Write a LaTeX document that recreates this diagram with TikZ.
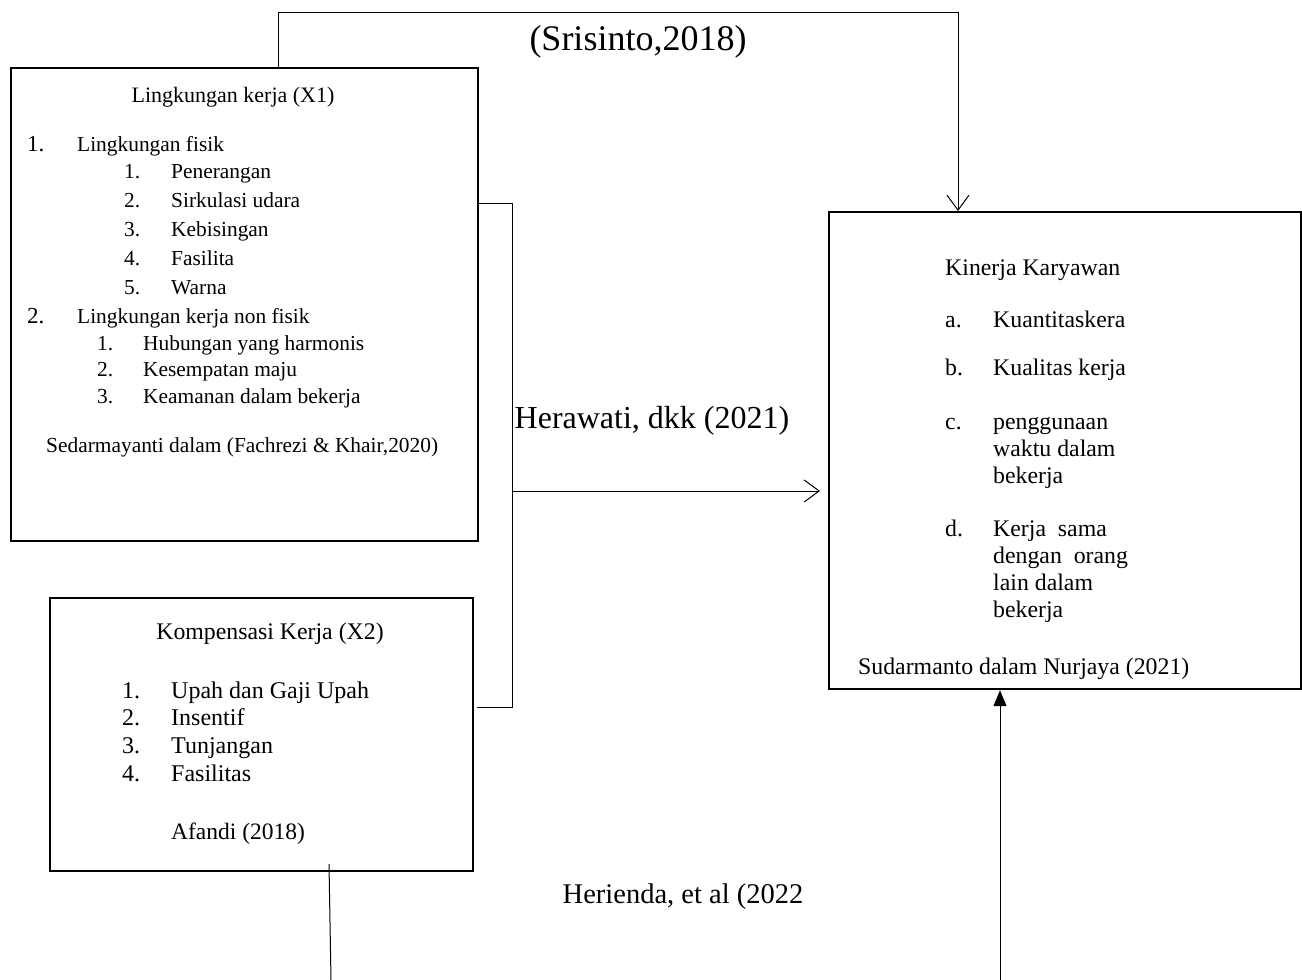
\documentclass[tikz,border=0pt]{standalone}
\usepackage{fontspec}
\setmainfont{Liberation Serif}
\usetikzlibrary{arrows.meta,calc}
\newcommand{\fs}[1]{\fontsize{#1}{#1}\selectfont}
\tikzset{
  boxshape/.style={draw, line width=2.2pt, inner sep=0pt, anchor=north west},
  conn/.style={line width=1pt},
  txt/.style={anchor=west, inner sep=0pt, text height=0.7em, text depth=0.22em, yshift=-5pt},
  ttxt/.style={anchor=center, inner sep=0pt, text height=0.7em, text depth=0.22em, yshift=-5pt},
  btxt/.style={anchor=center, inner sep=0pt, text height=0.7em, text depth=0.22em, yshift=-8pt},
  openarrow/.style={-{Straight Barb[length=15pt,width=22pt,line width=1pt]}},
  filledarrow/.style={-{Triangle[length=16pt,width=13pt]}}
}
\begin{document}
\begin{tikzpicture}[x=1pt,y=-1pt]
\useasboundingbox (0,0) rectangle (1302,980);
% boxes
\node[boxshape, minimum width=467pt, minimum height=473pt] (b1) at (10,67) {};
\node[boxshape, minimum width=423pt, minimum height=273pt] (b2) at (49,597) {};
\node[boxshape, minimum width=472pt, minimum height=477pt] (b3) at (828,211) {};

% box 1 text
\node[ttxt, font=\fs{22}] (t1) at (233,95) {Lingkungan kerja (X1)};
\node[txt, font=\fs{23}] (n1) at (27,144) {1.};
\node[txt, font=\fs{21.4}] (l1) at (77,144) {Lingkungan fisik};
\foreach \y/\n/\t [count=\i] in {171/1./Penerangan, 200/2./Sirkulasi udara, 229/3./Kebisingan, 258/4./Fasilita, 287/5./Warna}{
  \node[txt, font=\fs{21.4}] (sa\i) at (124,\y) {\n};
  \node[txt, font=\fs{21.4}] (sb\i) at (171,\y) {\t};
}
\node[txt, font=\fs{23}] (n2) at (27,316) {2.};
\node[txt, font=\fs{21.4}] (l2) at (77,316) {Lingkungan kerja non fisik};
\foreach \y/\n/\t [count=\i] in {343/1./Hubungan yang harmonis, 369/2./Kesempatan maju, 396/3./Keamanan dalam bekerja}{
  \node[txt, font=\fs{21.4}] (ua\i) at (97,\y) {\n};
  \node[txt, font=\fs{21.4}] (ub\i) at (143,\y) {\t};
}
\node[txt, font=\fs{21.4}] (src1) at (46,445) {Sedarmayanti dalam (Fachrezi \& Khair,2020)};

% box 2 text
\node[ttxt, font=\fs{23.8}] (t2) at (270,632) {Kompensasi Kerja (X2)};
\foreach \y/\n/\t [count=\i] in {691/1./Upah dan Gaji Upah, 718/2./Insentif, 746/3./Tunjangan, 774/4./Fasilitas}{
  \node[txt, font=\fs{24}] (ka\i) at (122,\y) {\n};
  \node[txt, font=\fs{24}] (kb\i) at (171,\y) {\t};
}
\node[txt, font=\fs{23.5}] (src2) at (171,832) {Afandi (2018)};

% box 3 text
\node[txt, font=\fs{23.8}] (t3) at (945,268) {Kinerja Karyawan};
\node[txt, font=\fs{23.8}] (pa) at (945,320) {a.};
\node[txt, font=\fs{23.8}] (pat) at (993,320) {Kuantitaskera};
\node[txt, font=\fs{23.8}] (pb) at (945,368) {b.};
\node[txt, font=\fs{23.8}] (pbt) at (993,368) {Kualitas kerja};
\node[txt, font=\fs{23.8}] (pc) at (945,422) {c.};
\node[txt, font=\fs{23.8}] (pc1) at (993,422) {penggunaan};
\node[txt, font=\fs{23.8}] (pc2) at (993,449) {waktu dalam};
\node[txt, font=\fs{23.8}] (pc3) at (993,476) {bekerja};
\node[txt, font=\fs{23.8}] (pd) at (945,529) {d.};
\node[txt, font=\fs{23.8}] (pd1) at (993,529) {Kerja\ \ sama};
\node[txt, font=\fs{23.8}] (pd2) at (993,556) {dengan\ \ orang};
\node[txt, font=\fs{23.8}] (pd3) at (993,583) {lain dalam};
\node[txt, font=\fs{23.8}] (pd4) at (993,610) {bekerja};
\node[txt, font=\fs{23.8}] (src3) at (858,667) {Sudarmanto dalam Nurjaya (2021)};

% free labels
\node[btxt, font=\fs{36}] (lab1) at (638,40) {(Srisinto,2018)};
\node[btxt, font=\fs{32}] (lab2) at (652,418) {Herawati, dkk (2021)};
\node[btxt, font=\fs{28.5}] (lab3) at (683,893) {Herienda, et al (2022};

% connectors
\coordinate (c1) at (278,12);
\coordinate (c2) at (958,12);
\draw[conn, openarrow] (c1 |- b1.north) -- (c1) -- (c2) -- (c2 |- b3.north);

\coordinate (k1) at (512,203);
\coordinate (k2) at (512,707);
\coordinate (k3) at (477,707);
\draw[conn] (b1.east |- k1) -- (k1) -- (k2) -- (k3);
\coordinate (h1) at (512,491);
\coordinate (h2) at (820,491);
\draw[conn, openarrow] (h1) -- (h2);

\coordinate (d1) at (329,864);
\coordinate (d2) at (331,980);
\draw[conn] (d1) -- (d2);
\coordinate (e1) at (1000,980);
\draw[conn, filledarrow] (e1) -- (e1 |- b3.south);
\end{tikzpicture}
\end{document}
